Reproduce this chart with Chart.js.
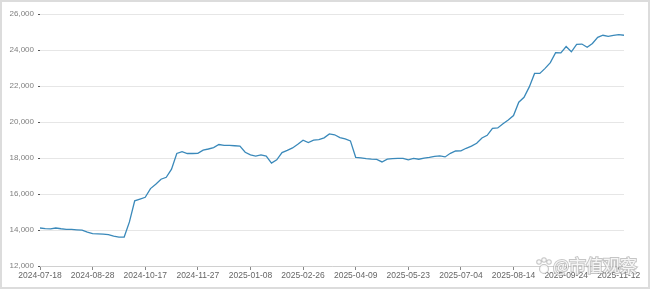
<!DOCTYPE html>
<html>
<head>
<meta charset="utf-8">
<title>Index chart</title>
<script src="https://cdn.jsdelivr.net/npm/chart.js"></script>
<style>
  html, body { margin: 0; padding: 0; background: #fff; }
  .frame {
    width: 650px; height: 289px; box-sizing: border-box;
    border: 2px solid #dcdcdc; position: relative; background: #fff;
  }
  .frame canvas { position: absolute; left: -2px; top: -2px; }
</style>
</head>
<body>
<div class="frame">
  <canvas id="myChart" width="650" height="289"></canvas>
</div>

<script>
// tick labels along the bottom, one every 10 points
const tickLabels = ['2024-07-18', '2024-08-28', '2024-10-17', '2024-11-27', '2025-01-08', '2025-02-26',
                    '2025-04-09', '2025-05-23', '2025-07-04', '2025-08-14', '2025-09-24', '2025-11-12'];

// index values (about every 3 trading days)
const values = [
  14110, 14080, 14060, 14110, 14070, 14040, 14030, 14010, 13990, 13880,
  13800, 13790, 13770, 13740, 13660, 13600, 13610, 14450, 15620, 15720,
  15820, 16300, 16540, 16820, 16930, 17380, 18250, 18350, 18250, 18250,
  18260, 18440, 18500, 18580, 18750, 18700, 18700, 18680, 18660, 18320,
  18170, 18110, 18170, 18110, 17720, 17900, 18300, 18420, 18560, 18760,
  18990, 18860, 18990, 19020, 19120, 19340, 19290, 19130, 19060, 18950,
  18040, 18010, 17970, 17940, 17920, 17780, 17940, 17970, 17980, 17980,
  17900, 17980, 17930, 17990, 18030, 18090, 18120, 18060, 18260, 18390,
  18400, 18540, 18660, 18820, 19110, 19260, 19650, 19670, 19900, 20110,
  20360, 21100, 21370, 21950, 22700, 22700, 22980, 23300, 23850, 23840,
  24190, 23900, 24310, 24330, 24150, 24360, 24700, 24820, 24760, 24810,
  24850, 24820
];

const yMin = 12000, yMax = 26000, yStep = 2000;
const watermark = '@市值观察';

const points = values.map((v, i) => ({ x: i, y: v }));

// watermark in the bottom right corner
const watermarkPlugin = {
  id: 'watermark',
  afterDraw(chart) {
    const ctx = chart.ctx;
    ctx.save();
    ctx.font = '17px "Noto Sans CJK SC", sans-serif';
    ctx.textBaseline = 'middle';
    ctx.textAlign = 'left';
    ctx.lineWidth = 2;
    ctx.strokeStyle = 'rgba(150,150,150,0.55)';
    ctx.fillStyle = 'rgba(255,255,255,0.85)';
    ctx.strokeText(watermark, 553, 266);
    ctx.fillText(watermark, 553, 266);
    // little paw mark in front
    ctx.beginPath();
    ctx.arc(544, 269, 4, 0, Math.PI * 2);
    ctx.stroke(); ctx.fill();
    [[539, 262], [544, 260], [549, 262]].forEach(p => {
      ctx.beginPath();
      ctx.arc(p[0], p[1], 1.8, 0, Math.PI * 2);
      ctx.stroke(); ctx.fill();
    });
    ctx.restore();
  }
};

const config = {
  type: 'line',
  data: {
    datasets: [{
      data: points,
      borderColor: '#3a89ba',
      borderWidth: 1.3,
      pointRadius: 0,
      tension: 0,
      fill: false
    }]
  },
  options: {
    responsive: false,
    animation: false,
    layout: { padding: { left: 0, right: 26, top: 14, bottom: 0 } },
    plugins: { legend: { display: false }, tooltip: { enabled: false } },
    scales: {
      x: {
        type: 'linear',
        min: 0,
        max: values.length - 1,
        afterFit: s => { s.height = 23; },
        afterBuildTicks: s => {
          s.ticks = tickLabels.map((_, i) => ({ value: i * 10 }));
        },
        ticks: {
          autoSkip: false,
          maxRotation: 0,
          padding: 1,
          color: '#666',
          font: { family: 'Liberation Sans', size: 8.5 },
          callback: v => tickLabels[v / 10] || ''
        },
        grid: { drawOnChartArea: false, tickLength: 4, tickColor: '#888', lineWidth: 1 },
        border: { display: true, color: '#d0d0d0' }
      },
      y: {
        min: yMin,
        max: yMax,
        afterFit: s => { s.width = 40; },
        ticks: {
          stepSize: yStep,
          padding: 4,
          color: '#808080',
          font: { family: 'Liberation Sans', size: 8 },
          callback: v => v.toLocaleString('en-US')
        },
        grid: { color: '#e6e6e6', tickLength: 2, tickColor: '#555', lineWidth: 1 },
        border: { display: false }
      }
    }
  },
  plugins: [watermarkPlugin]
};

const myChart = new Chart(document.getElementById('myChart'), config);
</script>
</body>
</html>
